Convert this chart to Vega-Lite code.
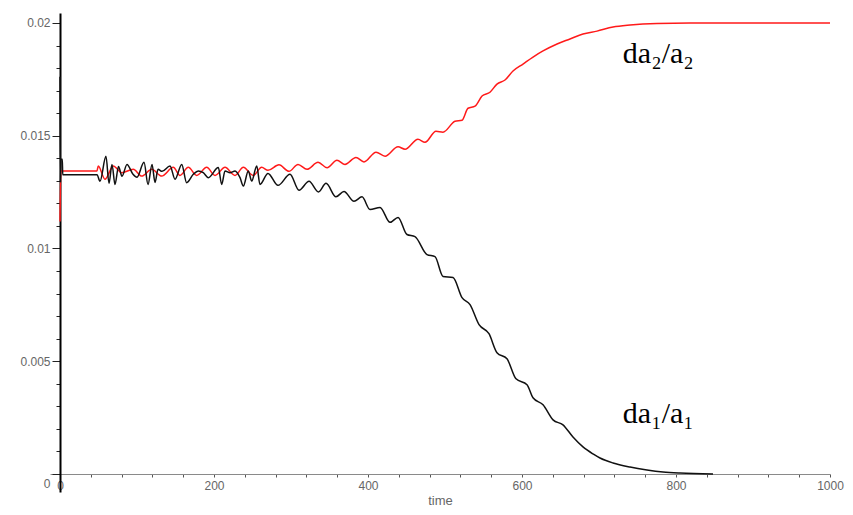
{
  "$schema": "https://vega.github.io/schema/vega-lite/v6.json",
  "width": 780,
  "height": 479,
  "autosize": {"type": "none"},
  "padding": {"left": 50, "top": 13, "right": 23, "bottom": 23},
  "background": "white",
  "config": {"view": {"stroke": null}},
  "datasets": {
    "red": [
      {"t":0,"v":0.0112},{"t":1,"v":0.01344},{"t":48,"v":0.01344},{"t":49.7,"v":0.01366},{"t":58.4,"v":0.01307},
      {"t":69.2,"v":0.01366},{"t":80.1,"v":0.01336},{"t":95.2,"v":0.01351},{"t":106.1,"v":0.01321},{"t":119.1,"v":0.01351},
      {"t":132.1,"v":0.01321},{"t":147.1,"v":0.0136},{"t":155.8,"v":0.01324},{"t":166.6,"v":0.0136},{"t":177.5,"v":0.01324},
      {"t":190.5,"v":0.0136},{"t":201.3,"v":0.01324},{"t":214.3,"v":0.0136},{"t":227.3,"v":0.01324},{"t":238.1,"v":0.0136},
      {"t":251.0,"v":0.01324},{"t":261.9,"v":0.0136},{"t":270.1,"v":0.01347},{"t":284.4,"v":0.01371},{"t":297.4,"v":0.01342},
      {"t":309.1,"v":0.01373},{"t":320.8,"v":0.01351},{"t":335.1,"v":0.01382},{"t":346.8,"v":0.01358},{"t":359.7,"v":0.01391},
      {"t":370.1,"v":0.01373},{"t":384.4,"v":0.01404},{"t":394.8,"v":0.01384},{"t":410.4,"v":0.01427},{"t":422.1,"v":0.01409},
      {"t":439.0,"v":0.01451},{"t":448.1,"v":0.0144},{"t":464.9,"v":0.01484},{"t":474.0,"v":0.01471},{"t":488.3,"v":0.0152},
      {"t":497.4,"v":0.01516},{"t":513.0,"v":0.01564},{"t":522.1,"v":0.01569},{"t":529.9,"v":0.01622},{"t":539.0,"v":0.01631},
      {"t":548.1,"v":0.01676},{"t":558.4,"v":0.01693},{"t":567.5,"v":0.01729},{"t":577.9,"v":0.01747},{"t":588.3,"v":0.01787},
      {"t":601.3,"v":0.01818},{"t":614.3,"v":0.01849},{"t":627.3,"v":0.01876},{"t":645.5,"v":0.01907},{"t":662.3,"v":0.01929},
      {"t":679.2,"v":0.01951},{"t":697.4,"v":0.01964},{"t":718.2,"v":0.01982},{"t":740.3,"v":0.01991},{"t":775.3,"v":0.01998},
      {"t":818.2,"v":0.02},{"t":876.6,"v":0.02},{"t":1000,"v":0.02}
    ],
    "black": [
      {"t":0,"v":0.01762},{"t":0.5,"v":0.01293},{"t":1,"v":0.01396},{"t":3,"v":0.01396},{"t":3.5,"v":0.01327},
      {"t":48.1,"v":0.01327},{"t":51.9,"v":0.01298},{"t":59.7,"v":0.01409},{"t":63.6,"v":0.01289},{"t":67.5,"v":0.01373},
      {"t":71.4,"v":0.01284},{"t":76.0,"v":0.01364},{"t":80.5,"v":0.0132},{"t":87.0,"v":0.01373},{"t":94.8,"v":0.01329},
      {"t":100,"v":0.01316},{"t":109.1,"v":0.01382},{"t":114.3,"v":0.01284},{"t":119.5,"v":0.01373},{"t":123.4,"v":0.01293},
      {"t":127.3,"v":0.01351},{"t":132.5,"v":0.01342},{"t":142.9,"v":0.01366},{"t":149.4,"v":0.01307},{"t":158.1,"v":0.01373},
      {"t":164.5,"v":0.01292},{"t":173.1,"v":0.01329},{"t":179.6,"v":0.01344},{"t":186.1,"v":0.01336},{"t":192.6,"v":0.01314},
      {"t":205.6,"v":0.01359},{"t":210.0,"v":0.01284},{"t":214.3,"v":0.01344},{"t":220.8,"v":0.01336},{"t":227.3,"v":0.01344},
      {"t":233.8,"v":0.01314},{"t":238.1,"v":0.01277},{"t":244.5,"v":0.01344},{"t":249.0,"v":0.01299},{"t":255.5,"v":0.01366},
      {"t":259.7,"v":0.01284},{"t":270.1,"v":0.01333},{"t":283.1,"v":0.0128},{"t":298.7,"v":0.01329},{"t":310.4,"v":0.01258},
      {"t":323.4,"v":0.01298},{"t":335.7,"v":0.01251},{"t":345.5,"v":0.01289},{"t":358.4,"v":0.01229},{"t":368.8,"v":0.01253},
      {"t":381.8,"v":0.01209},{"t":392.2,"v":0.01229},{"t":402.6,"v":0.01173},{"t":415.6,"v":0.01182},{"t":428.6,"v":0.01116},
      {"t":439.0,"v":0.01138},{"t":450.6,"v":0.01062},{"t":461.0,"v":0.01053},{"t":476.6,"v":0.00973},{"t":487.0,"v":0.00964},
      {"t":497.4,"v":0.00876},{"t":510.4,"v":0.00871},{"t":522.1,"v":0.00782},{"t":532.5,"v":0.00751},{"t":544.2,"v":0.00662},
      {"t":557.1,"v":0.00622},{"t":567.5,"v":0.00538},{"t":580.5,"v":0.00511},{"t":592.2,"v":0.00422},{"t":606.5,"v":0.00396},
      {"t":614.3,"v":0.00338},{"t":627.3,"v":0.00307},{"t":640.3,"v":0.0024},{"t":653.2,"v":0.00218},{"t":666.2,"v":0.00164},
      {"t":679.2,"v":0.0012},{"t":692.2,"v":0.00089},{"t":701.3,"v":0.00071},{"t":718.2,"v":0.00049},{"t":740.3,"v":0.00031},
      {"t":762.3,"v":0.00018},{"t":783.1,"v":0.00009},{"t":805.2,"v":0.00004},{"t":848.1,"v":0}
    ],
    "labels": [
      {"t":731,"v":0.01822,"label":"da₂/a₂"},
      {"t":731,"v":0.00227,"label":"da₁/a₁"}
    ]
  },
  "encoding": {
    "x": {
      "field": "t", "type": "quantitative",
      "scale": {"domain": [-13, 1000], "nice": false, "zero": false},
      "axis": {
        "title": "time", "offset": -18,
        "values": [0,40,80,120,160,200,240,280,320,360,400,440,480,520,560,600,640,680,720,760,800,840,880,920,960,1000],
        "labelExpr": "datum.value % 200 == 0 ? format(datum.value, 'd') : ''",
        "labelOverlap": false, "labelFlush": false,
        "domainColor": "#8a8a8a", "domainWidth": 1,
        "tickColor": "#555555", "tickSize": 3, "labelPadding": 3,
        "labelFont": "Liberation Sans", "labelFontSize": 12, "labelColor": "#666666",
        "titleFont": "Liberation Sans", "titleFontSize": 13, "titleFontWeight": "normal", "titleColor": "#666666",
        "titlePadding": 3,
        "grid": false
      }
    },
    "y": {
      "field": "v", "type": "quantitative",
      "scale": {"domain": [-0.000798, 0.020443], "nice": false, "zero": false},
      "axis": {
        "title": null, "offset": -10,
        "values": [0,0.001,0.002,0.003,0.004,0.005,0.006,0.007,0.008,0.009,0.01,0.011,0.012,0.013,0.014,0.015,0.016,0.017,0.018,0.019,0.02],
        "labelExpr": "abs(datum.value*200 - round(datum.value*200)) < 0.001 ? format(datum.value, '~g') : ''",
        "labelOverlap": false, "labelFlush": false,
        "labelOffset": {"condition": {"test": "datum.value == 0", "value": 9}, "value": 0},
        "domainColor": "#000000", "domainWidth": 2,
        "tickColor": "#222222",
        "tickSize": {"condition": {"test": "abs(datum.value*200 - round(datum.value*200)) < 0.001", "value": 8}, "value": 4},
        "labelPadding": 2,
        "labelFont": "Liberation Sans", "labelFontSize": 12, "labelColor": "#666666",
        "grid": false
      }
    }
  },
  "layer": [
    {
      "data": {"name": "red"},
      "mark": {"type": "line", "color": "#ff1a1a", "strokeWidth": 1.5, "interpolate": "monotone"}
    },
    {
      "data": {"name": "black"},
      "mark": {"type": "line", "color": "#111111", "strokeWidth": 1.5, "interpolate": "monotone"}
    },
    {
      "data": {"name": "labels"},
      "mark": {"type": "text", "align": "left", "baseline": "alphabetic", "font": "Liberation Serif", "fontSize": 30, "color": "#000000"},
      "encoding": {"text": {"field": "label", "type": "nominal"}}
    }
  ]
}
